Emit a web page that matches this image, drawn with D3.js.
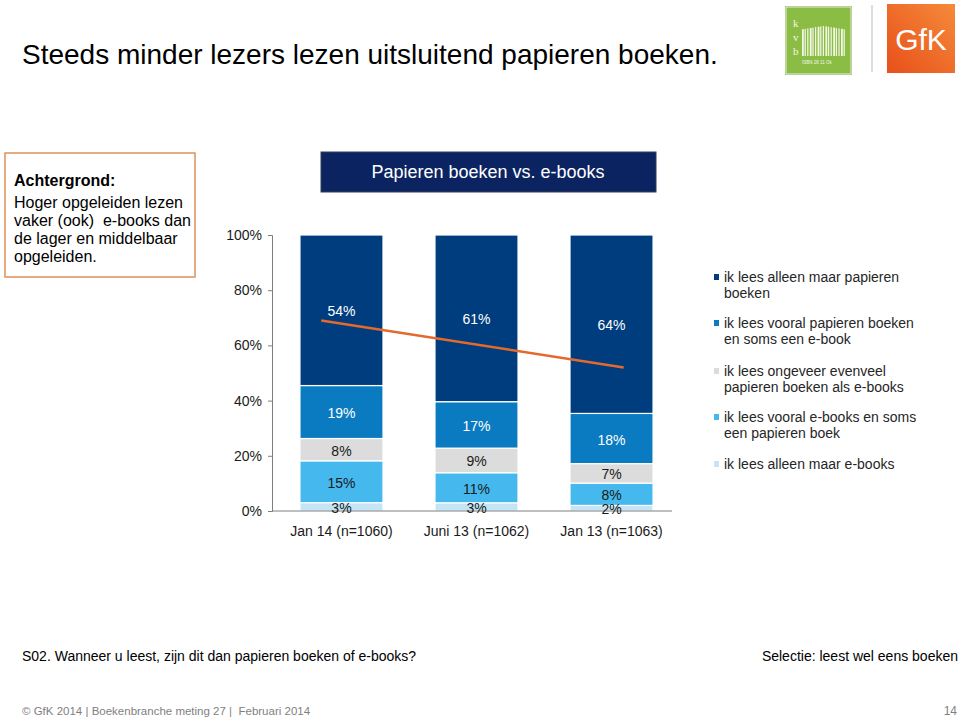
<!DOCTYPE html>
<html>
<head>
<meta charset="utf-8">
<script src="https://cdn.jsdelivr.net/npm/d3@7"></script>
<style>
  body { margin: 0; background: #fff; }
  svg { font-family: "Liberation Sans", Arial, sans-serif; }
</style>
</head>
<body>
<div id="chart"></div>
<script>
// data
var categories = ["Jan 14 (n=1060)", "Juni 13 (n=1062)", "Jan 13 (n=1063)"];
var seriesNames = [
  "ik lees alleen maar e-books",
  "ik lees vooral e-books en soms een papieren boek",
  "ik lees ongeveer evenveel papieren boeken als e-books",
  "ik lees vooral papieren boeken en soms een e-book",
  "ik lees alleen maar papieren boeken"
];
var alleenEbooks   = [3, 3, 2];
var vooralEbooks   = [15, 11, 8];
var evenveel       = [8, 9, 7];
var vooralPapier   = [19, 17, 18];
var alleenPapier   = [54, 61, 64];
var yTicks = [0, 0.2, 0.4, 0.6, 0.8, 1];
// orange trend arrow (category index, share)
var trend = [{i: -0.15, v: 0.69}, {i: 2.09, v: 0.52}];

var legendLines = [
  ["ik lees alleen maar papieren", "boeken"],
  ["ik lees vooral papieren boeken", "en soms een e-book"],
  ["ik lees ongeveer evenveel", "papieren boeken als e-books"],
  ["ik lees vooral e-books en soms", "een papieren boek"],
  ["ik lees alleen maar e-books"]
];

var colors = ["#c3e5f6", "#45b8ee", "#dcdcdc", "#0a7bc0", "#003d7e"];
var labelColors = ["#1a1a1a", "#1a1a1a", "#1a1a1a", "#fff", "#fff"];

var width = 960, height = 720;
var svg = d3.select("#chart").append("svg")
  .attr("width", width).attr("height", height);

// slide title
svg.append("text").attr("x", 22).attr("y", 64)
  .attr("font-size", 28).attr("fill", "#000")
  .text("Steeds minder lezers lezen uitsluitend papieren boeken.");

// logos (simple stand-ins)
var kvb = svg.append("g").attr("transform", "translate(785,6)");
kvb.append("rect").attr("width", 67).attr("height", 69).attr("fill", "#8bbd45");
kvb.append("rect").attr("x", 1).attr("y", 1).attr("width", 65).attr("height", 67)
  .attr("fill", "none").attr("stroke", "#eaeaea").attr("stroke-width", 1);
["k", "v", "b"].forEach(function(c, i) {
  kvb.append("text").attr("x", 8).attr("y", 21 + i * 14).attr("font-size", 11)
    .attr("font-family", "Liberation Serif, serif").attr("fill", "#f2f7e8").text(c);
});
d3.range(17).forEach(function(i) {
  kvb.append("rect").attr("x", 17 + i * 2.6).attr("y", 20 + Math.abs(i - 8) * 0.4)
    .attr("width", i % 3 == 0 ? 1.8 : 1.2).attr("height", 30 - Math.abs(i - 8) * 0.4)
    .attr("fill", "#f2f7e8");
});
kvb.append("text").attr("x", 17).attr("y", 58).attr("font-size", 4.5)
  .attr("fill", "#f2f7e8").text("ISBN 28     11 Ok");
svg.append("line").attr("x1", 872).attr("x2", 872).attr("y1", 5).attr("y2", 72)
  .attr("stroke", "#bbb").attr("stroke-width", 1);
var gfkGrad = svg.append("defs").append("linearGradient").attr("id", "gfk")
  .attr("x1", 0).attr("y1", 1).attr("x2", 1).attr("y2", 0);
gfkGrad.append("stop").attr("offset", "0%").attr("stop-color", "#e8501a");
gfkGrad.append("stop").attr("offset", "100%").attr("stop-color", "#f58a3a");
svg.append("rect").attr("x", 887).attr("y", 4).attr("width", 68).attr("height", 69)
  .attr("fill", "url(#gfk)");
svg.append("text").attr("x", 921).attr("y", 50).attr("text-anchor", "middle")
  .attr("font-size", 30).attr("fill", "#fff").text("GfK");

// background box
svg.append("rect").attr("x", 5).attr("y", 153).attr("width", 190).attr("height", 124)
  .attr("fill", "#fff").attr("stroke", "#e0905a").attr("stroke-width", 1.5);
var boxText = ["Hoger opgeleiden lezen", "vaker (ook)\u00a0 e-books dan", "de lager en middelbaar", "opgeleiden."];
svg.append("text").attr("x", 14).attr("y", 186).attr("font-size", 16)
  .attr("font-weight", "bold").attr("fill", "#000").text("Achtergrond:");
svg.selectAll(".boxline").data(boxText).enter().append("text")
  .attr("x", 14).attr("y", function(d, i) { return 208 + i * 18; })
  .attr("font-size", 16).attr("fill", "#000").text(function(d) { return d; });

// chart title bar
svg.append("rect").attr("x", 321).attr("y", 152).attr("width", 335).attr("height", 40)
  .attr("fill", "#0b2461").attr("stroke", "#333f55").attr("stroke-width", 1);
svg.append("text").attr("x", 488).attr("y", 178).attr("text-anchor", "middle")
  .attr("font-size", 18).attr("fill", "#fff").text("Papieren boeken vs. e-books");

// scales
var x = d3.scaleBand().domain(categories).range([272, 681])
  .paddingInner(0.385).paddingOuter(0.207);
var y = d3.scaleLinear().domain([0, 1]).range([511, 235]);
var xi = d3.scaleLinear().domain([0, 2])
  .range([x(categories[0]) + x.bandwidth() / 2, x(categories[2]) + x.bandwidth() / 2]);

var rows = categories.map(function(c, i) {
  return {cat: c, s0: alleenEbooks[i], s1: vooralEbooks[i], s2: evenveel[i], s3: vooralPapier[i], s4: alleenPapier[i]};
});
var stack = d3.stack().keys(["s0", "s1", "s2", "s3", "s4"]).offset(d3.stackOffsetExpand);
var layers = stack(rows);

var gBars = svg.append("g");
layers.forEach(function(layer, li) {
  gBars.selectAll(".bar" + li).data(layer).enter().append("rect")
    .attr("x", function(d) { return x(d.data.cat); })
    .attr("y", function(d) { return y(d[1]); })
    .attr("width", x.bandwidth())
    .attr("height", function(d) { return y(d[0]) - y(d[1]); })
    .attr("fill", colors[li])
    .attr("stroke", "#fff").attr("stroke-width", 1.2);
});

// axes
var yAxis = d3.axisLeft(y).tickValues(yTicks).tickSize(4).tickPadding(6)
  .tickFormat(d3.format(".0%"));
var gy = svg.append("g").attr("transform", "translate(272,0)").call(yAxis);
gy.select(".domain").attr("stroke", "#7f7f7f");
gy.selectAll(".tick line").attr("stroke", "#7f7f7f");
gy.selectAll("text").attr("font-size", 14).attr("fill", "#1a1a1a")
  .attr("font-family", "Liberation Sans, Arial, sans-serif");

svg.append("line").attr("x1", 272).attr("x2", 672).attr("y1", y(0)).attr("y2", y(0))
  .attr("stroke", "#7f7f7f").attr("stroke-width", 1);

var xAxis = d3.axisBottom(x).tickSize(0).tickPadding(15);
var gx = svg.append("g").attr("transform", "translate(0," + y(0) + ")").call(xAxis);
gx.select(".domain").remove();
gx.selectAll("text").attr("font-size", 14).attr("fill", "#1a1a1a")
  .attr("font-family", "Liberation Sans, Arial, sans-serif");

// segment labels
layers.forEach(function(layer, li) {
  svg.selectAll(".lab" + li).data(layer).enter().append("text")
    .attr("x", function(d) { return x(d.data.cat) + x.bandwidth() / 2; })
    .attr("y", function(d) { return (y(d[0]) + y(d[1])) / 2 + 6; })
    .attr("text-anchor", "middle").attr("font-size", 14)
    .attr("fill", labelColors[li])
    .text(function(d) { return d.data[layer.key] + "%"; });
});

// trend line
svg.append("path").datum(trend)
  .attr("d", d3.line().x(function(d) { return xi(d.i); }).y(function(d) { return y(d.v); }))
  .attr("fill", "none").attr("stroke", "#e4692a").attr("stroke-width", 2.5);

// legend (top series first)
var legend = svg.append("g").attr("transform", "translate(714,0)");
var legendY = [277, 323, 371, 417, 464];
legendLines.forEach(function(lines, i) {
  var si = 4 - i;
  legend.append("rect").attr("x", 0).attr("y", legendY[i] - 3).attr("width", 5).attr("height", 6)
    .attr("fill", colors[si]);
  lines.forEach(function(t, j) {
    legend.append("text").attr("x", 10).attr("y", legendY[i] + 5 + j * 16)
      .attr("font-size", 14).attr("fill", "#262626").text(t);
  });
});

// footers
svg.append("text").attr("x", 22).attr("y", 661).attr("font-size", 14)
  .attr("fill", "#000").text("S02. Wanneer u leest, zijn dit dan papieren boeken of e-books?");
svg.append("text").attr("x", 958).attr("y", 661).attr("font-size", 14).attr("text-anchor", "end")
  .attr("fill", "#000").text("Selectie: leest wel eens boeken");
svg.append("text").attr("x", 22).attr("y", 715).attr("font-size", 11.5).attr("fill", "#7f7f7f")
  .text("\u00a9 GfK 2014 | Boekenbranche meting 27 | \u00a0Februari 2014");
svg.append("text").attr("x", 957).attr("y", 715).attr("font-size", 12).attr("text-anchor", "end")
  .attr("fill", "#7f7f7f").text("14");
</script>
</body>
</html>
